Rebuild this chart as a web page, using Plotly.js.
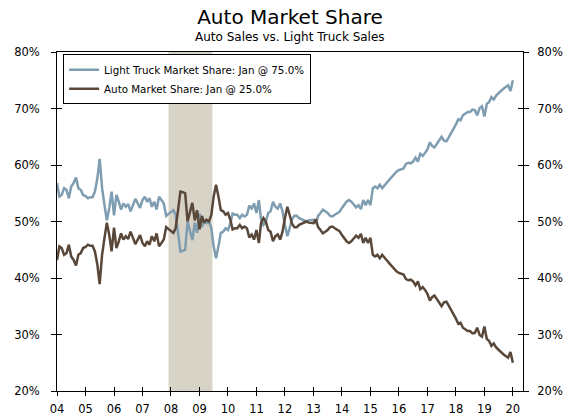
<!DOCTYPE html>
<html>
<head>
<meta charset="utf-8">
<script src="https://cdn.plot.ly/plotly-3.0.1.min.js"></script>
<style>
html,body{margin:0;padding:0;background:#fff;}
#chart{width:578px;height:416px;}
</style>
</head>
<body>
<div id="chart"></div>
<script>
// Monthly data, Jan 2004 .. Jan 2020
const startYear = 2004;
const lightTruckShare = [
56.8,54.4,54.7,55.9,55.6,54.1,56.2,56.8,57.8,55.9,55.6,54.7,
54.5,54.1,54.3,54.3,55.3,57.6,61.1,55.9,52.9,50.2,52.4,55.3,
51.1,54.7,53.6,52.1,53.2,52.6,53.1,51.8,52.9,54.0,53.2,52.4,
53.8,54.4,53.5,54.1,52.6,53.5,52.1,54.4,53.8,53.2,51.0,51.4,
51.7,52.0,51.2,48.0,44.7,44.8,45.0,50.0,48.5,46.7,49.8,48.0,
51.4,49.0,50.2,49.7,50.0,48.9,45.6,43.5,45.6,48.0,48.2,48.8,
48.5,49.7,51.4,51.2,51.2,50.6,51.2,50.9,51.2,52.8,52.3,53.2,
51.5,53.8,50.3,49.4,50.0,51.5,51.8,53.5,52.6,52.3,53.2,51.8,
49.4,47.4,48.8,50.4,51.0,51.0,50.6,50.4,50.2,50.0,50.2,50.3,
50.3,49.6,51.0,51.5,52.1,51.8,51.5,51.0,50.9,51.2,51.5,51.7,
52.4,53.0,53.5,53.8,53.5,53.0,52.5,52.9,52.2,53.8,52.9,53.8,
52.9,55.9,56.2,55.9,56.5,55.9,56.5,56.9,57.4,57.9,58.3,58.8,
59.1,59.2,59.4,60.2,60.4,60.3,60.6,61.3,60.6,62.0,61.6,62.1,
62.8,64.0,63.4,63.1,63.7,64.3,65.0,64.3,64.2,64.9,65.7,66.2,
67.2,68.1,67.9,68.8,69.1,69.4,69.4,69.8,69.7,68.8,70.1,70.4,
68.6,70.8,71.1,72.0,71.6,72.3,72.7,73.2,73.5,73.8,74.1,73.1,
75.0
];
const autoShare = [
43.2,45.6,45.3,44.1,44.4,45.9,43.8,43.2,42.2,44.1,44.4,45.3,
45.5,45.9,45.7,45.7,44.7,42.4,38.9,44.1,47.1,49.8,47.6,44.7,
48.9,45.3,46.4,47.9,46.8,47.4,46.9,48.2,47.1,46.0,46.8,47.6,
46.2,45.6,46.5,45.9,47.4,46.5,47.9,45.6,46.2,46.8,49.0,48.6,
48.3,48.0,48.8,52.0,55.3,55.2,55.0,50.0,51.5,53.3,50.2,52.0,
48.6,51.0,49.8,50.3,50.0,51.1,54.4,56.5,54.4,52.0,51.8,51.2,
51.5,50.3,48.6,48.8,48.8,49.4,48.8,49.1,48.8,47.2,47.7,46.8,
48.5,46.2,49.7,50.6,50.0,48.5,48.2,46.5,47.4,47.7,46.8,48.2,
50.6,52.6,51.2,49.6,49.0,49.0,49.4,49.6,49.8,50.0,49.8,49.7,
49.7,50.4,49.0,48.5,47.9,48.2,48.5,49.0,49.1,48.8,48.5,48.3,
47.6,47.0,46.5,46.2,46.5,47.0,47.5,47.1,47.8,46.2,47.1,46.2,
47.1,44.1,43.8,44.1,43.5,44.1,43.5,43.1,42.6,42.1,41.7,41.2,
40.9,40.8,40.6,39.8,39.6,39.7,39.4,38.7,39.4,38.0,38.4,37.9,
37.2,36.0,36.6,36.9,36.3,35.7,35.0,35.7,35.8,35.1,34.3,33.8,
32.8,31.9,32.1,31.2,30.9,30.6,30.6,30.2,30.3,31.2,29.9,29.6,
31.4,29.2,28.9,28.0,28.4,27.7,27.3,26.8,26.5,26.2,25.9,26.9,
25.0
];
const xTickYears = [2004,2005,2006,2007,2008,2009,2010,2011,2012,2013,2014,2015,2016,2017,2018,2019,2020];
const xTickLabels = ['04','05','06','07','08','09','10','11','12','13','14','15','16','17','18','19','20'];
const yTickValues = [20,30,40,50,60,70,80];
const yTickLabels = ['20%','30%','40%','50%','60%','70%','80%'];
const recession = ['2007-12-01','2009-06-15'];
const truckName = 'Light Truck Market Share: Jan @ 75.0%';
const autoName = 'Auto Market Share: Jan @ 25.0%';

const dates = lightTruckShare.map((_, i) => {
  const y = startYear + Math.floor(i / 12);
  const m = (i % 12) + 1;
  return y + '-' + (m < 10 ? '0' + m : m) + '-01';
});
const tickDates = xTickYears.map(y => y + '-01-01');

const FONT = 'DejaVu Sans, Verdana, sans-serif';
const xRange = ['2004-01-01', '2020-05-10'];
const yRange = [20, 80];

function ghost(xa, ya) {
  return {x: [dates[0]], y: [autoShare[0]], type: 'scatter', mode: 'markers', xaxis: xa, yaxis: ya,
    marker: {opacity: 0, size: 1}, showlegend: false, hoverinfo: 'skip'};
}

const traces = [
  {x: dates, y: lightTruckShare, type: 'scatter', mode: 'lines', name: truckName,
   line: {color: '#7f9db0', width: 2.5}, xaxis: 'x', yaxis: 'y'},
  {x: dates, y: autoShare, type: 'scatter', mode: 'lines', name: autoName,
   line: {color: '#594839', width: 2.5}, xaxis: 'x', yaxis: 'y'},
  ghost('x', 'y2'), ghost('x2', 'y3'), ghost('x2', 'y4')
];

const baseY = {range: yRange, tickvals: yTickValues, ticktext: yTickLabels, showgrid: false, zeroline: false,
  tickcolor: '#000', tickwidth: 1, ticklen: 5, fixedrange: true};

const layout = {
  width: 578, height: 416,
  margin: {l: 57, r: 55, t: 52, b: 25, pad: 0},
  paper_bgcolor: '#fff', plot_bgcolor: '#fff',
  font: {family: FONT, size: 11, color: '#000'},
  title: {text: 'Auto Market Share', font: {family: FONT, size: 20, color: '#000'},
          x: 0.5, xanchor: 'center', xref: 'paper', y: 1 - 17/416, yanchor: 'middle', yref: 'container'},
  annotations: [{text: 'Auto Sales vs. Light Truck Sales', xref: 'paper', yref: 'paper', x: 0.5, y: 1.043,
    xanchor: 'center', yanchor: 'middle', showarrow: false, font: {family: FONT, size: 12, color: '#000'}}],
  showlegend: true,
  legend: {x: 0.013, y: 0.993, xanchor: 'left', yanchor: 'top', bgcolor: '#fff', bordercolor: '#000', borderwidth: 1,
    font: {family: FONT, size: 10.3, color: '#000'}, itemwidth: 30, tracegroupgap: 0},
  xaxis: {type: 'date', range: xRange, tickvals: tickDates, ticktext: xTickLabels, ticks: 'outside', ticklen: 4,
    tickcolor: '#000', tickwidth: 1, showline: true, linecolor: '#000', linewidth: 1, mirror: true,
    showgrid: false, zeroline: false, tickfont: {family: FONT, size: 11.5}, ticklabelstandoff: 3, fixedrange: true},
  xaxis2: {type: 'date', range: xRange, tickvals: tickDates, overlaying: 'x', side: 'bottom', ticks: 'inside', ticklen: 4,
    tickcolor: '#000', tickwidth: 1, showticklabels: false, showline: false, showgrid: false, zeroline: false, fixedrange: true},
  yaxis: Object.assign({}, baseY, {side: 'left', ticks: 'outside', showline: true, linecolor: '#000', linewidth: 1,
    tickfont: {family: FONT, size: 11.5}, ticklabelstandoff: 9}),
  yaxis2: Object.assign({}, baseY, {overlaying: 'y', side: 'right', ticks: 'outside', showline: true, linecolor: '#000', linewidth: 1,
    tickfont: {family: FONT, size: 11.5}, ticklabelstandoff: 6}),
  yaxis3: Object.assign({}, baseY, {overlaying: 'y', side: 'left', ticks: 'inside', showticklabels: false, showline: false}),
  yaxis4: Object.assign({}, baseY, {overlaying: 'y', side: 'right', ticks: 'inside', showticklabels: false, showline: false}),
  shapes: [{type: 'rect', xref: 'x', yref: 'paper', x0: recession[0], x1: recession[1], y0: 0, y1: 1,
    fillcolor: '#d7d3c7', line: {width: 0}, layer: 'below'}]
};

Plotly.newPlot('chart', traces, layout, {staticPlot: true, displayModeBar: false});
</script>
</body>
</html>
